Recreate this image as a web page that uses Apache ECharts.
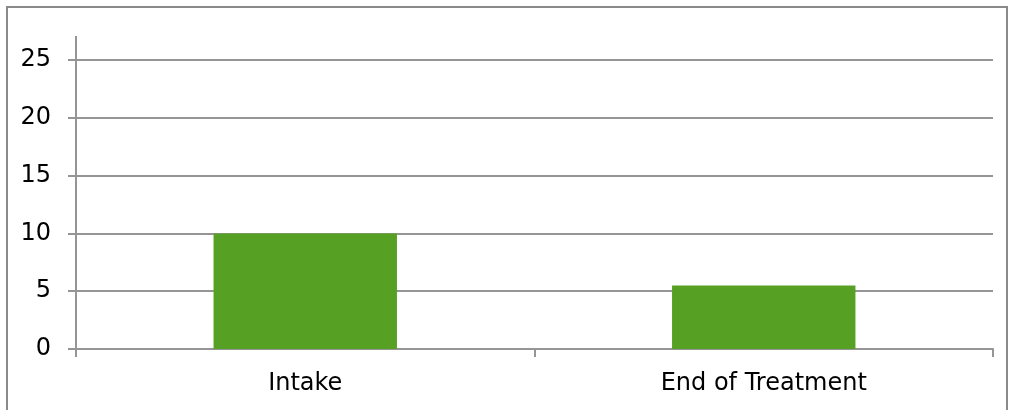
<!DOCTYPE html>
<html lang="en">

<head>
    <meta charset="UTF-8">
    <title>Intake vs End of Treatment</title>
    <script src="https://cdn.jsdelivr.net/npm/echarts@6/dist/echarts.min.js"></script>
    <style>
        html, body { margin: 0; padding: 0; background: #fff; }
        #chart { width: 1011px; height: 410px; }
    </style>
</head>

<body>
    <div id="chart"></div>
    <script>
        const categories = ['Intake', 'End of Treatment'];
        const values = [10, 5.5];
        const yTicks = [0, 5, 10, 15, 20, 25];

        const lineGray = '#959595';
        const chart = echarts.init(document.getElementById('chart'));

        chart.setOption({
            animation: false,
            grid: { left: 76, right: 18, top: 60, bottom: 61 },
            // outer frame + little stub of y axis above 25 (excel style)
            graphic: [
                { type: 'rect', shape: { x: 7, y: 7, width: 1000, height: 420 },
                  style: { fill: 'none', stroke: '#8a8a8a', lineWidth: 2 } },
                { type: 'line', shape: { x1: 76, y1: 36, x2: 76, y2: 60 },
                  style: { stroke: lineGray, lineWidth: 2 } }
            ],
            xAxis: {
                type: 'category',
                data: categories,
                axisLine: { lineStyle: { color: lineGray, width: 2 } },
                axisTick: { show: true, length: 8, lineStyle: { color: lineGray, width: 2 } },
                axisLabel: { color: '#000', fontFamily: 'DejaVu Sans', fontSize: 24, margin: 23 }
            },
            yAxis: {
                type: 'value',
                min: yTicks[0],
                max: yTicks[yTicks.length - 1],
                interval: 5,
                axisLine: { show: true, lineStyle: { color: lineGray, width: 2 } },
                axisTick: { show: true, length: 8, lineStyle: { color: lineGray, width: 2 } },
                axisLabel: { color: '#000', fontFamily: 'DejaVu Sans', fontSize: 24, margin: 25,
                             padding: [5, 0, 0, 0] },
                splitLine: { lineStyle: { color: lineGray, width: 2 } }
            },
            series: [{
                type: 'bar',
                data: values,
                barWidth: '40%',
                itemStyle: { color: '#56a024' }
            }]
        });
    </script>
</body>

</html>
